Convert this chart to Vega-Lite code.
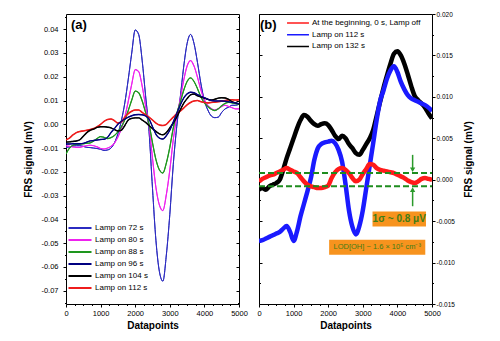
{
"$schema":"https://vega.github.io/schema/vega-lite/v6.json",
"padding":{"left":23,"top":10,"right":4,"bottom":4},
"config":{"font":"Liberation Sans","view":{"stroke":"#000000","strokeWidth":1},"axis":{"grid":false,"domain":false,"tickColor":"#000000","labelColor":"#000000","titleColor":"#000000","labelFlush":false,"labelOverlap":false},"axisX":{"labelOverlap":false}},
"spacing":20,
"bounds":"flush",
"resolve":{"scale":{"color":"independent","strokeWidth":"independent","shape":"independent"},"legend":{"color":"independent"}},
"datasets":{
"a":[
{"x":0,"Lamp on 72 s":-0.0097,"Lamp on 80 s":-0.0090,"Lamp on 88 s":-0.0125,"Lamp on 96 s":-0.0083,"Lamp on 104 s":-0.0075,"Lamp on 112 s":-0.0065},
{"x":100,"Lamp on 72 s":-0.0095,"Lamp on 80 s":-0.0093,"Lamp on 88 s":-0.0100,"Lamp on 96 s":-0.0083,"Lamp on 104 s":-0.0074,"Lamp on 112 s":-0.0058},
{"x":200,"Lamp on 72 s":-0.0092,"Lamp on 80 s":-0.0095,"Lamp on 88 s":-0.0088,"Lamp on 96 s":-0.0082,"Lamp on 104 s":-0.0072,"Lamp on 112 s":-0.0045},
{"x":300,"Lamp on 72 s":-0.0090,"Lamp on 80 s":-0.0097,"Lamp on 88 s":-0.0085,"Lamp on 96 s":-0.0082,"Lamp on 104 s":-0.0070,"Lamp on 112 s":-0.0035},
{"x":400,"Lamp on 72 s":-0.0090,"Lamp on 80 s":-0.0097,"Lamp on 88 s":-0.0083,"Lamp on 96 s":-0.0082,"Lamp on 104 s":-0.0065,"Lamp on 112 s":-0.0030},
{"x":500,"Lamp on 72 s":-0.0093,"Lamp on 80 s":-0.0093,"Lamp on 88 s":-0.0082,"Lamp on 96 s":-0.0080,"Lamp on 104 s":-0.0050,"Lamp on 112 s":-0.0028},
{"x":600,"Lamp on 72 s":-0.0097,"Lamp on 80 s":-0.0090,"Lamp on 88 s":-0.0080,"Lamp on 96 s":-0.0075,"Lamp on 104 s":-0.0035,"Lamp on 112 s":-0.0025},
{"x":700,"Lamp on 72 s":-0.0098,"Lamp on 80 s":-0.0088,"Lamp on 88 s":-0.0078,"Lamp on 96 s":-0.0070,"Lamp on 104 s":-0.0025,"Lamp on 112 s":-0.0022},
{"x":800,"Lamp on 72 s":-0.0100,"Lamp on 80 s":-0.0090,"Lamp on 88 s":-0.0070,"Lamp on 96 s":-0.0068,"Lamp on 104 s":-0.0020,"Lamp on 112 s":-0.0018},
{"x":900,"Lamp on 72 s":-0.0102,"Lamp on 80 s":-0.0095,"Lamp on 88 s":-0.0060,"Lamp on 96 s":-0.0066,"Lamp on 104 s":-0.0013,"Lamp on 112 s":-0.0010},
{"x":1000,"Lamp on 72 s":-0.0105,"Lamp on 80 s":-0.0102,"Lamp on 88 s":-0.0052,"Lamp on 96 s":-0.0064,"Lamp on 104 s":-0.0010,"Lamp on 112 s":0.0000},
{"x":1100,"Lamp on 72 s":-0.0110,"Lamp on 80 s":-0.0104,"Lamp on 88 s":-0.0055,"Lamp on 96 s":-0.0063,"Lamp on 104 s":-0.0010,"Lamp on 112 s":0.0012},
{"x":1200,"Lamp on 72 s":-0.0108,"Lamp on 80 s":-0.0100,"Lamp on 88 s":-0.0060,"Lamp on 96 s":-0.0055,"Lamp on 104 s":-0.0012,"Lamp on 112 s":0.0020},
{"x":1300,"Lamp on 72 s":-0.0100,"Lamp on 80 s":-0.0093,"Lamp on 88 s":-0.0056,"Lamp on 96 s":-0.0035,"Lamp on 104 s":-0.0015,"Lamp on 112 s":0.0022},
{"x":1400,"Lamp on 72 s":-0.0078,"Lamp on 80 s":-0.0079,"Lamp on 88 s":-0.0047,"Lamp on 96 s":-0.0018,"Lamp on 104 s":-0.0022,"Lamp on 112 s":0.0015},
{"x":1500,"Lamp on 72 s":-0.0040,"Lamp on 80 s":-0.0054,"Lamp on 88 s":-0.0032,"Lamp on 96 s":0.0000,"Lamp on 104 s":-0.0028,"Lamp on 112 s":0.0005},
{"x":1600,"Lamp on 72 s":0.0015,"Lamp on 80 s":-0.0018,"Lamp on 88 s":-0.0011,"Lamp on 96 s":0.0013,"Lamp on 104 s":-0.0025,"Lamp on 112 s":0.0010},
{"x":1700,"Lamp on 72 s":0.0090,"Lamp on 80 s":0.0031,"Lamp on 88 s":0.0019,"Lamp on 96 s":0.0022,"Lamp on 104 s":-0.0005,"Lamp on 112 s":0.0030},
{"x":1800,"Lamp on 72 s":0.0190,"Lamp on 80 s":0.0097,"Lamp on 88 s":0.0058,"Lamp on 96 s":0.0030,"Lamp on 104 s":0.0018,"Lamp on 112 s":0.0045},
{"x":1900,"Lamp on 72 s":0.0300,"Lamp on 80 s":0.0169,"Lamp on 88 s":0.0102,"Lamp on 96 s":0.0036,"Lamp on 104 s":0.0025,"Lamp on 112 s":0.0055},
{"x":2000,"Lamp on 72 s":0.0397,"Lamp on 80 s":0.0230,"Lamp on 88 s":0.0140,"Lamp on 96 s":0.0040,"Lamp on 104 s":0.0027,"Lamp on 112 s":0.0060},
{"x":2100,"Lamp on 72 s":0.0378,"Lamp on 80 s":0.0222,"Lamp on 88 s":0.0133,"Lamp on 96 s":0.0041,"Lamp on 104 s":0.0027,"Lamp on 112 s":0.0060},
{"x":2200,"Lamp on 72 s":0.0270,"Lamp on 80 s":0.0162,"Lamp on 88 s":0.0099,"Lamp on 96 s":0.0040,"Lamp on 104 s":0.0018,"Lamp on 112 s":0.0050},
{"x":2300,"Lamp on 72 s":0.0120,"Lamp on 80 s":0.0077,"Lamp on 88 s":0.0050,"Lamp on 96 s":0.0035,"Lamp on 104 s":0.0008,"Lamp on 112 s":0.0040},
{"x":2400,"Lamp on 72 s":-0.0030,"Lamp on 80 s":-0.0008,"Lamp on 88 s":0.0001,"Lamp on 96 s":0.0022,"Lamp on 104 s":-0.0005,"Lamp on 112 s":0.0030},
{"x":2500,"Lamp on 72 s":-0.0270,"Lamp on 80 s":-0.0143,"Lamp on 88 s":-0.0078,"Lamp on 96 s":-0.0010,"Lamp on 104 s":-0.0018,"Lamp on 112 s":0.0018},
{"x":2600,"Lamp on 72 s":-0.0490,"Lamp on 80 s":-0.0267,"Lamp on 88 s":-0.0149,"Lamp on 96 s":-0.0042,"Lamp on 104 s":-0.0030,"Lamp on 112 s":0.0005},
{"x":2700,"Lamp on 72 s":-0.0620,"Lamp on 80 s":-0.0340,"Lamp on 88 s":-0.0192,"Lamp on 96 s":-0.0058,"Lamp on 104 s":-0.0040,"Lamp on 112 s":-0.0003},
{"x":2800,"Lamp on 72 s":-0.0660,"Lamp on 80 s":-0.0363,"Lamp on 88 s":-0.0205,"Lamp on 96 s":-0.0062,"Lamp on 104 s":-0.0044,"Lamp on 112 s":-0.0005},
{"x":2900,"Lamp on 72 s":-0.0550,"Lamp on 80 s":-0.0296,"Lamp on 88 s":-0.0163,"Lamp on 96 s":-0.0048,"Lamp on 104 s":-0.0035,"Lamp on 112 s":0.0000},
{"x":3000,"Lamp on 72 s":-0.0380,"Lamp on 80 s":-0.0193,"Lamp on 88 s":-0.0097,"Lamp on 96 s":-0.0025,"Lamp on 104 s":-0.0015,"Lamp on 112 s":0.0015},
{"x":3100,"Lamp on 72 s":-0.0170,"Lamp on 80 s":-0.0065,"Lamp on 88 s":-0.0016,"Lamp on 96 s":0.0010,"Lamp on 104 s":0.0005,"Lamp on 112 s":0.0030},
{"x":3200,"Lamp on 72 s":-0.0010,"Lamp on 80 s":0.0032,"Lamp on 88 s":0.0045,"Lamp on 96 s":0.0045,"Lamp on 104 s":0.0030,"Lamp on 112 s":0.0045},
{"x":3300,"Lamp on 72 s":0.0110,"Lamp on 80 s":0.0105,"Lamp on 88 s":0.0092,"Lamp on 96 s":0.0080,"Lamp on 104 s":0.0060,"Lamp on 112 s":0.0055},
{"x":3400,"Lamp on 72 s":0.0240,"Lamp on 80 s":0.0184,"Lamp on 88 s":0.0142,"Lamp on 96 s":0.0110,"Lamp on 104 s":0.0088,"Lamp on 112 s":0.0068},
{"x":3500,"Lamp on 72 s":0.0340,"Lamp on 80 s":0.0245,"Lamp on 88 s":0.0180,"Lamp on 96 s":0.0128,"Lamp on 104 s":0.0108,"Lamp on 112 s":0.0082},
{"x":3600,"Lamp on 72 s":0.0378,"Lamp on 80 s":0.0268,"Lamp on 88 s":0.0195,"Lamp on 96 s":0.0135,"Lamp on 104 s":0.0124,"Lamp on 112 s":0.0092},
{"x":3700,"Lamp on 72 s":0.0340,"Lamp on 80 s":0.0245,"Lamp on 88 s":0.0180,"Lamp on 96 s":0.0133,"Lamp on 104 s":0.0127,"Lamp on 112 s":0.0098},
{"x":3800,"Lamp on 72 s":0.0260,"Lamp on 80 s":0.0198,"Lamp on 88 s":0.0150,"Lamp on 96 s":0.0125,"Lamp on 104 s":0.0120,"Lamp on 112 s":0.0100},
{"x":3900,"Lamp on 72 s":0.0170,"Lamp on 80 s":0.0144,"Lamp on 88 s":0.0115,"Lamp on 96 s":0.0118,"Lamp on 104 s":0.0115,"Lamp on 112 s":0.0095},
{"x":4000,"Lamp on 72 s":0.0100,"Lamp on 80 s":0.0103,"Lamp on 88 s":0.0090,"Lamp on 96 s":0.0112,"Lamp on 104 s":0.0110,"Lamp on 112 s":0.0092},
{"x":4100,"Lamp on 72 s":0.0060,"Lamp on 80 s":0.0079,"Lamp on 88 s":0.0075,"Lamp on 96 s":0.0105,"Lamp on 104 s":0.0105,"Lamp on 112 s":0.0090},
{"x":4200,"Lamp on 72 s":0.0035,"Lamp on 80 s":0.0066,"Lamp on 88 s":0.0063,"Lamp on 96 s":0.0100,"Lamp on 104 s":0.0102,"Lamp on 112 s":0.0092},
{"x":4300,"Lamp on 72 s":0.0028,"Lamp on 80 s":0.0060,"Lamp on 88 s":0.0058,"Lamp on 96 s":0.0098,"Lamp on 104 s":0.0105,"Lamp on 112 s":0.0093},
{"x":4400,"Lamp on 72 s":0.0030,"Lamp on 80 s":0.0065,"Lamp on 88 s":0.0065,"Lamp on 96 s":0.0098,"Lamp on 104 s":0.0110,"Lamp on 112 s":0.0095},
{"x":4500,"Lamp on 72 s":0.0050,"Lamp on 80 s":0.0075,"Lamp on 88 s":0.0078,"Lamp on 96 s":0.0098,"Lamp on 104 s":0.0112,"Lamp on 112 s":0.0098},
{"x":4600,"Lamp on 72 s":0.0065,"Lamp on 80 s":0.0080,"Lamp on 88 s":0.0088,"Lamp on 96 s":0.0097,"Lamp on 104 s":0.0111,"Lamp on 112 s":0.0100},
{"x":4700,"Lamp on 72 s":0.0072,"Lamp on 80 s":0.0075,"Lamp on 88 s":0.0092,"Lamp on 96 s":0.0095,"Lamp on 104 s":0.0105,"Lamp on 112 s":0.0102},
{"x":4800,"Lamp on 72 s":0.0080,"Lamp on 80 s":0.0070,"Lamp on 88 s":0.0090,"Lamp on 96 s":0.0092,"Lamp on 104 s":0.0095,"Lamp on 112 s":0.0103},
{"x":4900,"Lamp on 72 s":0.0080,"Lamp on 80 s":0.0065,"Lamp on 88 s":0.0087,"Lamp on 96 s":0.0090,"Lamp on 104 s":0.0090,"Lamp on 112 s":0.0102},
{"x":5000,"Lamp on 72 s":0.0085,"Lamp on 80 s":0.0065,"Lamp on 88 s":0.0085,"Lamp on 96 s":0.0086,"Lamp on 104 s":0.0086,"Lamp on 112 s":0.0103}
],
"b":[
{"x":0,"r":-0.0002,"b":-0.0074,"k":-0.0012},
{"x":100,"r":0.0001,"b":-0.0073,"k":-0.0010},
{"x":200,"r":0.0003,"b":-0.0071,"k":-0.0012},
{"x":300,"r":0.0005,"b":-0.0069,"k":-0.0008},
{"x":400,"r":0.0006,"b":-0.0067,"k":-0.0006},
{"x":500,"r":0.0008,"b":-0.0065,"k":-0.0004},
{"x":600,"r":0.0010,"b":-0.0063,"k":0.0000},
{"x":700,"r":0.0012,"b":-0.0059,"k":0.0012},
{"x":800,"r":0.0014,"b":-0.0056,"k":0.0026},
{"x":900,"r":0.0012,"b":-0.0063,"k":0.0038},
{"x":1000,"r":0.0010,"b":-0.0074,"k":0.0050},
{"x":1100,"r":0.0008,"b":-0.0062,"k":0.0062},
{"x":1200,"r":0.0003,"b":-0.0044,"k":0.0072},
{"x":1300,"r":-0.0002,"b":-0.0029,"k":0.0078},
{"x":1400,"r":-0.0006,"b":-0.0014,"k":0.0076},
{"x":1500,"r":-0.0008,"b":0.0002,"k":0.0071},
{"x":1600,"r":-0.0009,"b":0.0024,"k":0.0067},
{"x":1700,"r":-0.0010,"b":0.0038,"k":0.0065},
{"x":1800,"r":-0.0010,"b":0.0043,"k":0.0067},
{"x":1900,"r":-0.0009,"b":0.0045,"k":0.0068},
{"x":2000,"r":-0.0007,"b":0.0046,"k":0.0066},
{"x":2100,"r":0.0002,"b":0.0047,"k":0.0060},
{"x":2200,"r":0.0009,"b":0.0044,"k":0.0053},
{"x":2300,"r":0.0013,"b":0.0036,"k":0.0049},
{"x":2400,"r":0.0014,"b":0.0022,"k":0.0053},
{"x":2500,"r":0.0012,"b":-0.0005,"k":0.0050},
{"x":2600,"r":0.0008,"b":-0.0037,"k":0.0043},
{"x":2700,"r":0.0002,"b":-0.0057,"k":0.0038},
{"x":2800,"r":-0.0002,"b":-0.0066,"k":0.0032},
{"x":2900,"r":0.0000,"b":-0.0056,"k":0.0030},
{"x":3000,"r":0.0007,"b":-0.0037,"k":0.0036},
{"x":3100,"r":0.0013,"b":-0.0010,"k":0.0043},
{"x":3200,"r":0.0019,"b":0.0017,"k":0.0050},
{"x":3300,"r":0.0018,"b":0.0044,"k":0.0060},
{"x":3400,"r":0.0014,"b":0.0072,"k":0.0077},
{"x":3500,"r":0.0012,"b":0.0095,"k":0.0094},
{"x":3600,"r":0.0011,"b":0.0108,"k":0.0111},
{"x":3700,"r":0.0010,"b":0.0122,"k":0.0126},
{"x":3800,"r":0.0009,"b":0.0132,"k":0.0140},
{"x":3900,"r":0.0008,"b":0.0137,"k":0.0152},
{"x":4000,"r":0.0006,"b":0.0130,"k":0.0155},
{"x":4100,"r":0.0004,"b":0.0118,"k":0.0150},
{"x":4200,"r":0.0002,"b":0.0109,"k":0.0140},
{"x":4300,"r":-0.0001,"b":0.0102,"k":0.0127},
{"x":4400,"r":-0.0003,"b":0.0098,"k":0.0113},
{"x":4500,"r":-0.0004,"b":0.0096,"k":0.0101},
{"x":4600,"r":-0.0002,"b":0.0094,"k":0.0096},
{"x":4700,"r":0.0001,"b":0.0092,"k":0.0092},
{"x":4800,"r":0.0002,"b":0.0090,"k":0.0087},
{"x":4900,"r":0.0001,"b":0.0087,"k":0.0080},
{"x":5000,"r":0.0000,"b":0.0083,"k":0.0074}
]
},
"hconcat":[
{
"width":173,"height":290,
"encoding":{
"x":{"field":"x","type":"quantitative","scale":{"domain":[0,5000],"nice":false,"zero":false},
 "axis":{"values":[0,250,500,750,1000,1250,1500,1750,2000,2250,2500,2750,3000,3250,3500,3750,4000,4250,4500,4750,5000],"format":"d","labelOverlap":false,"labelExpr":"datum.value % 1000 == 0 ? datum.label : ''","tickSize":{"condition":{"test":"datum.value % 1000 == 0","value":3},"value":1.5},"labelFontSize":7.5,"labelPadding":2,"title":"Datapoints","titleFontSize":10,"titleFontWeight":"bold","titlePadding":4}}
},
"layer":[
{"data":{"name":"a"},
"transform":[{"fold":["Lamp on 72 s","Lamp on 80 s","Lamp on 88 s","Lamp on 112 s","Lamp on 104 s","Lamp on 96 s"],"as":["s","v"]}],
"mark":{"type":"line","clip":true,"interpolate":"monotone","strokeWidth":1},
"encoding":{
"y":{"field":"v","type":"quantitative","scale":{"domain":[-0.0756,0.0464],"nice":false,"zero":false},
 "axis":{"values":[-0.075,-0.07,-0.065,-0.06,-0.055,-0.05,-0.045,-0.04,-0.035,-0.03,-0.025,-0.02,-0.015,-0.01,-0.005,0,0.005,0.01,0.015,0.02,0.025,0.03,0.035,0.04,0.045],"labelOverlap":false,"labelExpr":"round(datum.value*1000) % 10 == 0 ? (datum.value < 0 ? '-' : '') + format(abs(datum.value), '.2f') : ''","tickSize":{"condition":{"test":"round(datum.value*1000) % 10 == 0","value":3},"value":1.5},"labelFontSize":7.5,"labelPadding":5,"title":"FRS signal (mV)","titleFontSize":10,"titleFontWeight":"bold","titlePadding":7}},
"color":{"field":"s","type":"nominal","scale":{"domain":["Lamp on 72 s","Lamp on 80 s","Lamp on 88 s","Lamp on 96 s","Lamp on 104 s","Lamp on 112 s"],"range":["#2b2bc0","#ee22ee","#1e961e","#000080","#000000","#ee1c1c"]},
 "legend":{"orient":"none","legendX":1,"legendY":209,"title":null,"symbolType":"stroke","symbolSize":530,"symbolStrokeWidth":2,"labelFontSize":8,"clipHeight":10,"rowPadding":2,"padding":0,"labelOffset":2}}
}},
{"data":{"name":"a"},
"transform":[{"fold":["Lamp on 72 s","Lamp on 80 s","Lamp on 88 s","Lamp on 112 s","Lamp on 104 s","Lamp on 96 s"],"as":["s","v"]}],
"mark":{"type":"line","clip":true,"interpolate":"monotone"},
"encoding":{
"y":{"field":"v","type":"quantitative","axis":null},
"color":{"field":"s","type":"nominal","legend":null},
"strokeWidth":{"field":"s","type":"nominal","scale":{"domain":["Lamp on 72 s","Lamp on 80 s","Lamp on 88 s","Lamp on 96 s","Lamp on 104 s","Lamp on 112 s"],"range":[1,1.6,1.6,2.4,1.8,2.4]},"legend":null}
}},
{"data":{"values":[{"x":145,"v":0.0418,"t":"(a)"}]},
"mark":{"type":"text","align":"left","baseline":"middle","fontSize":13,"fontWeight":"bold","color":"#000000"},
"encoding":{
"y":{"field":"v","type":"quantitative","axis":{"orient":"right","values":[-0.075,-0.07,-0.065,-0.06,-0.055,-0.05,-0.045,-0.04,-0.035,-0.03,-0.025,-0.02,-0.015,-0.01,-0.005,0,0.005,0.01,0.015,0.02,0.025,0.03,0.035,0.04,0.045],"labels":false,"title":null,"tickSize":{"condition":{"test":"round(datum.value*1000) % 10 == 0","value":-3},"value":-1.5}}},
"text":{"field":"t"}
}}
],
"resolve":{"axis":{"y":"independent"},"legend":{"color":"independent"}}
},
{
"width":173,"height":290,
"encoding":{
"x":{"field":"x","type":"quantitative","scale":{"domain":[0,5000],"nice":false,"zero":false},
 "axis":{"values":[0,250,500,750,1000,1250,1500,1750,2000,2250,2500,2750,3000,3250,3500,3750,4000,4250,4500,4750,5000],"format":"d","labelOverlap":false,"labelExpr":"datum.value % 1000 == 0 ? datum.label : ''","tickSize":{"condition":{"test":"datum.value % 1000 == 0","value":3},"value":1.5},"labelFontSize":7.5,"labelPadding":2,"title":"Datapoints","titleFontSize":10,"titleFontWeight":"bold","titlePadding":4}}
},
"layer":[
{"data":{"name":"b"},
"transform":[{"fold":["k","b","r"],"as":["s","v"]}],
"mark":{"type":"line","clip":true,"interpolate":"monotone","strokeWidth":1.5},
"encoding":{
"y":{"field":"v","type":"quantitative","scale":{"domain":[-0.015,0.02],"nice":false,"zero":false},
 "axis":{"orient":"right","values":[-0.015,-0.0125,-0.01,-0.0075,-0.005,-0.0025,0,0.0025,0.005,0.0075,0.01,0.0125,0.015,0.0175,0.02],"labelOverlap":false,"labelExpr":"round(datum.value*10000) % 50 == 0 ? (datum.value < 0 ? '-' : '') + format(abs(datum.value), '.3f') : ''","tickSize":{"condition":{"test":"round(datum.value*10000) % 50 == 0","value":3},"value":1.5},"labelFontSize":6.5,"labelPadding":1,"title":"FRS signal (mV)","titleAngle":270,"titleFontSize":10,"titleFontWeight":"bold","titlePadding":19}},
"color":{"field":"s","type":"nominal","scale":{"domain":["r","b","k"],"range":["#ff1a1a","#1a1aff","#000000"]},
 "legend":{"orient":"none","legendX":27,"legendY":4,"title":null,"symbolType":"stroke","symbolSize":480,"symbolStrokeWidth":1.5,"labelFontSize":8,"clipHeight":10,"rowPadding":1.7,"padding":0,"labelOffset":2,"labelExpr":"datum.label == 'r' ? 'At the beginning, 0 s, Lamp off' : datum.label == 'b' ? 'Lamp on 112 s' : 'Lamp on 132 s'"}}
}},
{"data":{"name":"b"},
"transform":[{"fold":["k","b","r"],"as":["s","v"]}],
"mark":{"type":"line","clip":true,"interpolate":"monotone"},
"encoding":{
"y":{"field":"v","type":"quantitative","axis":null},
"color":{"field":"s","type":"nominal","legend":null},
"strokeWidth":{"field":"s","type":"nominal","scale":{"domain":["r","b","k"],"range":[4.5,4.5,3.2]},"legend":null}
}},
{"data":{"values":[{"v":0.0008,"x":0,"x2":5000},{"v":-0.0008,"x":0,"x2":5000}]},
"mark":{"type":"rule","color":"#1e8c1e","strokeWidth":2,"strokeDash":[6,3]},
"encoding":{"x2":{"field":"x2"},"y":{"field":"v","type":"quantitative","axis":null}}},
{"data":{"values":[{"x":4440,"v":0.0030,"v2":0.0012},{"x":4440,"v":-0.0032,"v2":-0.0012}]},
"mark":{"type":"rule","color":"#2a9a2a","strokeWidth":1.5},
"encoding":{"y":{"field":"v","type":"quantitative","axis":null},"y2":{"field":"v2"}}},
{"data":{"values":[{"x":4440,"v":0.0012,"d":"down"},{"x":4440,"v":-0.0012,"d":"up"}]},
"mark":{"type":"point","filled":true,"color":"#2a9a2a","size":28,"opacity":1},
"encoding":{"y":{"field":"v","type":"quantitative","axis":null},"shape":{"field":"d","type":"nominal","scale":{"domain":["down","up"],"range":["triangle-down","triangle-up"]},"legend":null}}},
{"data":{"values":[{"x":3281,"x2":4826,"v":-0.00383,"v2":-0.00564},{"x":2027,"x2":4806,"v":-0.00724,"v2":-0.00905}]},
"mark":{"type":"rect","color":"#f7931e","opacity":1},
"encoding":{"x2":{"field":"x2"},"y":{"field":"v","type":"quantitative","axis":null},"y2":{"field":"v2"}}},
{"data":{"values":[{"x":4053,"v":-0.00474,"t":"1σ ~ 0.8 μV"}]},
"mark":{"type":"text","align":"center","baseline":"middle","fontSize":10,"fontWeight":"bold","color":"#3f7d16"},
"encoding":{"y":{"field":"v","type":"quantitative","axis":null},"text":{"field":"t"}}},
{"data":{"values":[{"x":3416,"v":-0.00815,"t":"LOD[OH] ~ 1.6 × 10⁵ cm⁻³"}]},
"mark":{"type":"text","align":"center","baseline":"middle","fontSize":7.5,"color":"#3f7d16"},
"encoding":{"y":{"field":"v","type":"quantitative","axis":null},"text":{"field":"t"}}},
{"data":{"values":[{"x":29,"v":0.01865,"t":"(b)"}]},
"mark":{"type":"text","align":"left","baseline":"middle","fontSize":13,"fontWeight":"bold","color":"#000000"},
"encoding":{
"y":{"field":"v","type":"quantitative","axis":{"orient":"left","values":[-0.015,-0.0125,-0.01,-0.0075,-0.005,-0.0025,0,0.0025,0.005,0.0075,0.01,0.0125,0.015,0.0175,0.02],"labels":false,"title":null,"tickSize":{"condition":{"test":"round(datum.value*10000) % 50 == 0","value":-3},"value":-1.5}}},
"text":{"field":"t"}}}
],
"resolve":{"axis":{"y":"independent"},"legend":{"color":"independent"}}
}
]
}
